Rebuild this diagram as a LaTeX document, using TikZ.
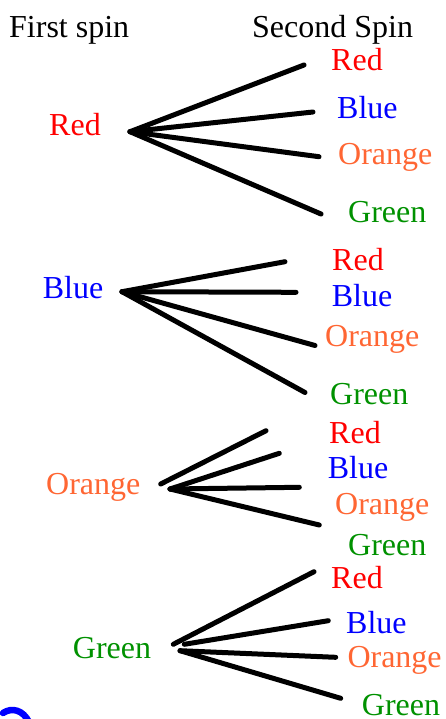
\documentclass[tikz,border=0pt]{standalone}
\usepackage{fontspec}
\setmainfont{Liberation Serif}
\definecolor{cRed}{RGB}{255,0,0}
\definecolor{cBlue}{RGB}{0,0,255}
\definecolor{cOrange}{RGB}{255,102,51}
\definecolor{cGreen}{RGB}{0,145,0}
\tikzset{
  lbl/.style={anchor=base west, inner sep=0pt, font=\fontsize{32}{38}\selectfont},
  branch/.style={line width=5pt, line cap=round, black},
}
\begin{document}
\begin{tikzpicture}[x=1pt,y=-1pt]
\useasboundingbox (0,0) rectangle (446,719);

% headings
\node[lbl] (h1) at (9,37.3) {First spin};
\node[lbl] (h2) at (252,37.3) {Second Spin};

% ---- first spin: Red ----
\node[lbl, text=cRed] (r) at (49,135.7) {Red};
\coordinate (r0) at (130,131.7);
\node[lbl, text=cRed] (rr) at (331,70.7) {Red};
\node[lbl, text=cBlue] (rb) at (337,119) {Blue};
\node[lbl, text=cOrange] (ro) at (338,165) {Orange};
\node[lbl, text=cGreen] (rg) at (348,222.7) {Green};
\coordinate (rr1) at (304,65);
\coordinate (rb1) at (313,112);
\coordinate (ro1) at (319,156.7);
\coordinate (rg1) at (321,214);
\draw[branch] (r0) -- (rr1);
\draw[branch] (r0) -- (rb1);
\draw[branch] (r0) -- (ro1);
\draw[branch] (r0) -- (rg1);

% ---- first spin: Blue ----
\node[lbl, text=cBlue] (b) at (42.7,298.3) {Blue};
\coordinate (b0) at (122,291.7);
\node[lbl, text=cRed] (br) at (332,270) {Red};
\node[lbl, text=cBlue] (bb) at (331.7,306) {Blue};
\node[lbl, text=cOrange] (bo) at (325,346.7) {Orange};
\node[lbl, text=cGreen] (bg) at (330,404.3) {Green};
\coordinate (br1) at (285,261.7);
\coordinate (bb1) at (296,292.3);
\coordinate (bo1) at (315,345.5);
\coordinate (bg1) at (305,392.5);
\draw[branch] (b0) -- (br1);
\draw[branch] (b0) -- (bb1);
\draw[branch] (b0) -- (bo1);
\draw[branch] (b0) -- (bg1);

% ---- first spin: Orange ----
\node[lbl, text=cOrange] (o) at (46,494) {Orange};
\coordinate (o0a) at (160.7,484);
\coordinate (o0) at (170,489);
\node[lbl, text=cRed] (or) at (329,443.3) {Red};
\node[lbl, text=cBlue] (ob) at (327.7,478.3) {Blue};
\node[lbl, text=cOrange] (oo) at (335,514.3) {Orange};
\node[lbl, text=cGreen] (og) at (348,555.3) {Green};
\coordinate (or1) at (266,430.7);
\coordinate (ob1) at (279.3,453.3);
\coordinate (oo1) at (299.3,487.3);
\coordinate (og1) at (319.3,525);
\draw[branch] (o0a) -- (or1);
\draw[branch] (o0) -- (ob1);
\draw[branch] (o0) -- (oo1);
\draw[branch] (o0) -- (og1);

% ---- first spin: Green ----
\node[lbl, text=cGreen] (g) at (72.7,658.3) {Green};
\coordinate (g0a) at (173.3,644.3);
\coordinate (g0b) at (184.3,644.3);
\coordinate (g0) at (180,650.7);
\node[lbl, text=cRed] (gr) at (331,588.3) {Red};
\node[lbl, text=cBlue] (gb) at (346,633.3) {Blue};
\node[lbl, text=cOrange] (go) at (347.3,667.7) {Orange};
\node[lbl, text=cGreen] (gg) at (361.7,715.5) {Green};
\coordinate (gr1) at (314,571.7);
\coordinate (gb1) at (328.3,620.7);
\coordinate (go1) at (335.7,657.3);
\coordinate (gg1) at (340.7,698.3);
\draw[branch] (g0a) -- (gr1);
\draw[branch] (g0b) -- (gb1);
\draw[branch] (g0) -- (go1);
\draw[branch] (g0) -- (gg1);

% blue stroke cut by the bottom edge
\draw[cBlue, line width=6.5pt, line cap=round] (3,713) .. controls (12,707) and (23,710) .. (29,722);
\end{tikzpicture}
\end{document}
